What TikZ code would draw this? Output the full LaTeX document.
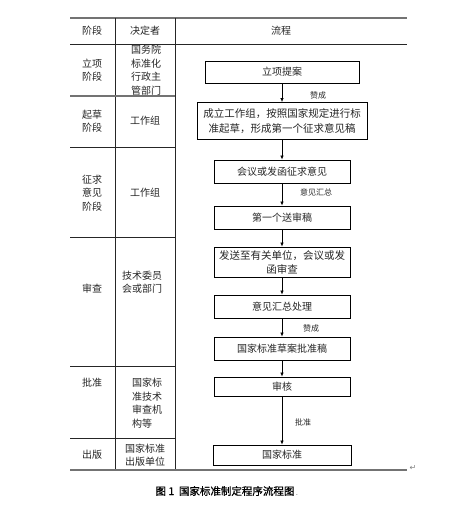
\documentclass[tikz,border=0pt]{standalone}
\usepackage{fontspec}
\newfontfamily\cjk{Noto Sans CJK SC}
\newfontfamily\cjkbold[FakeBold=1]{Noto Sans CJK SC}
\newfontfamily\symb{DejaVu Sans}
\usetikzlibrary{arrows.meta}
\begin{document}
\begin{tikzpicture}[x=1pt,y=-1pt,
  font=\cjk\fontsize{10}{13.5}\selectfont, text=black!85,
  flow/.style={draw=black, line width=0.8pt, inner sep=0pt, minimum width=136pt, minimum height=23pt, align=center},
  gridline/.style={line width=0.8pt, draw=black!85},
  heavy/.style={line width=1.6pt, draw=black!55},
  arr/.style={-{Latex[length=4pt,width=3.5pt]}, line width=0.7pt},
  lab/.style={font=\cjk\fontsize{8}{10}\selectfont, inner sep=0pt},
  cell/.style={align=center, inner sep=0pt},
  cellL/.style={align=left, inner sep=0pt}]
\useasboundingbox (0,0) rectangle (460,510);

% table lines
\draw[heavy] (70,18) -- (407,18);
\draw[gridline] (70,44) -- (407,44);
\draw[gridline] (115,18) -- (115,470);
\draw[gridline] (175,18) -- (175,470);
\draw[heavy] (70,96) -- (175,96);
\draw[gridline] (70,147) -- (175,147);
\draw[gridline] (70,237) -- (175,237);
\draw[gridline] (70,366) -- (175,366);
\draw[gridline] (70,438) -- (175,438);
\draw[heavy] (70,470) -- (407,470);
\node[text=black!50, inner sep=0pt, font=\symb\fontsize{8}{8}\selectfont] (pm) at (413,468) {↵};

% header
\node[cell] (h1) at (92,31) {阶段};
\node[cell] (h2) at (145,31) {决定者};
\node[cell] (h3) at (281,31) {流程};

% left columns
\node[cell] (s1) at (92,70) {立项\\阶段};
\node[cellL] (d1) at (146,70) {国务院\\标准化\\行政主\\管部门};
\node[cell] (s2) at (92,121) {起草\\阶段};
\node[cell] (d2) at (145,121) {工作组};
\node[cell] (s3) at (92,193) {征求\\意见\\阶段};
\node[cell] (d3) at (145,193) {工作组};
\node[cell] (s4) at (92,289) {审查};
\node[cellL] (d4) at (142,282) {技术委员\\会或部门};
\node[cell] (s5) at (92,383) {批准};
\node[cellL] (d5) at (147,403) {国家标\\准技术\\审查机\\构等};
\node[cell] (s6) at (92,455) {出版};
\node[cell] (d6) at (145,455) {国家标准\\出版单位};

% flow boxes
\node[flow, minimum width=154pt, minimum height=22pt] (b1) at (282,72) {立项提案};
\node[flow, minimum width=170pt, minimum height=37pt, font=\cjk\fontsize{10.5}{15}\selectfont] (b2) at (282,121) {成立工作组，按照国家规定进行标\\准起草，形成第一个征求意见稿};
\node[flow] (b3) at (282,171.5) {会议或发函征求意见};
\node[flow] (b4) at (282,217.5) {第一个送审稿};
\node[flow, minimum height=30pt, font=\cjk\fontsize{10.5}{14}\selectfont] (b5) at (282,262) {发送至有关单位，会议或发\\函审查};
\node[flow] (b6) at (282,306.5) {意见汇总处理};
\node[flow] (b7) at (282,348.5) {国家标准草案批准稿};
\node[flow, minimum height=19pt] (b8) at (282,386.5) {审核};
\node[flow, minimum width=138pt, minimum height=20pt] (b9) at (282,455) {国家标准};

% arrows
\draw[arr] (b1) -- (b2);
\draw[arr] (b2) -- (b3);
\draw[arr] (b3) -- (b4);
\draw[arr] (b4) -- (b5);
\draw[arr] (b5) -- (b6);
\draw[arr] (b6) -- (b7);
\draw[arr] (b7) -- (b8);
\draw[arr] (b8) -- (b9);

% arrow labels
\node[lab] (l1) at (318,95) {赞成};
\node[lab] (l2) at (316,192) {意见汇总};
\node[lab] (l3) at (311,328) {赞成};
\node[lab] (l4) at (303,422) {批准};

% caption
\node[inner sep=0pt, text=black, font=\cjkbold\fontsize{10.5}{12}\selectfont] (cap) at (225,491) {图 1\ \ 国家标准制定程序流程图};
\node[inner sep=0pt, text=black!60, font=\symb\fontsize{7}{7}\selectfont, anchor=base west] (capdot) at ([xshift=1pt]cap.base east) {.};
\end{tikzpicture}
\end{document}
